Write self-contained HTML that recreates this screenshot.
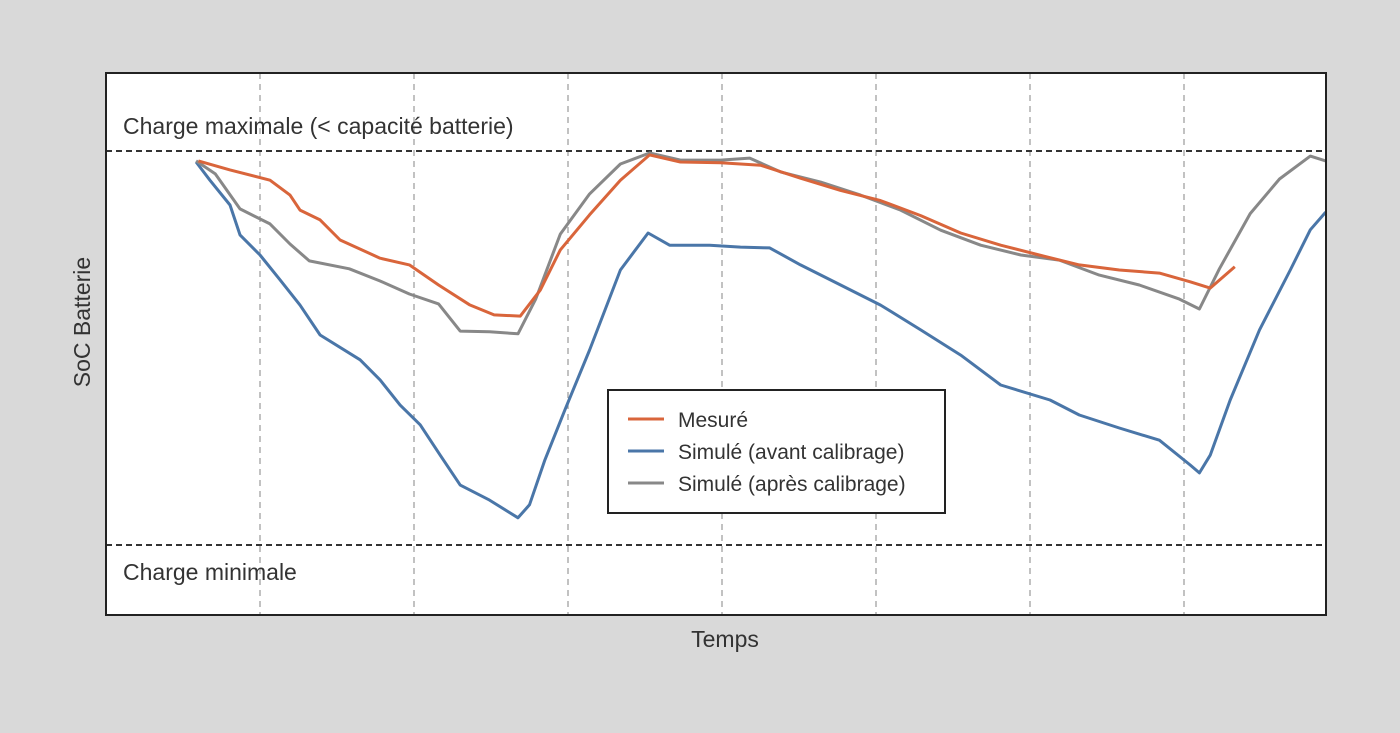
<!DOCTYPE html>
<html><head><meta charset="utf-8"><style>
html,body{margin:0;padding:0;background:#d9d9d9;}
svg text{font-family:"Liberation Sans",sans-serif;fill:#333;}
</style></head><body>
<svg width="1400" height="728" xmlns="http://www.w3.org/2000/svg">
<rect x="0" y="0" width="1400" height="728" fill="#d9d9d9"/>
<rect x="106" y="73" width="1220" height="542" fill="#fff"/>
<g id="grid"></g>
<g id="series"></g>
<rect x="106" y="73" width="1220" height="542" fill="none" stroke="#222" stroke-width="2"/>
<text x="123" y="134" font-size="23">Charge maximale (&lt; capacité batterie)</text>
<text x="123" y="580" font-size="23">Charge minimale</text>
<text x="725" y="647" font-size="23" text-anchor="middle">Temps</text>
<text x="0" y="0" font-size="23" text-anchor="middle" transform="translate(90,322) rotate(-90)">SoC Batterie</text>
<g>
<rect x="608" y="390" width="337" height="123" fill="#fff" stroke="#222" stroke-width="2"/>
<line x1="628" y1="419" x2="664" y2="419" stroke="#d9653b" stroke-width="3"/>
<text x="678" y="427" font-size="21">Mesuré</text>
<line x1="628" y1="451" x2="664" y2="451" stroke="#4a76a8" stroke-width="3"/>
<text x="678" y="459" font-size="21">Simulé (avant calibrage)</text>
<line x1="628" y1="483" x2="664" y2="483" stroke="#888" stroke-width="3"/>
<text x="678" y="491" font-size="21">Simulé (après calibrage)</text>
</g>
</svg>
<script>
// time in grid units (1 unit = one grid interval), SoC in % (0=min charge, 100=max charge)
const gridTimes=[1,2,3,4,5,6,7];
const socLimits=[100,0];
const mesureT=[0.6,0.805,1.065,1.195,1.26,1.39,1.52,1.78,1.97,2.16,2.36,2.52,2.69,2.82,2.95,3.14,3.34,3.53,3.73,3.99,4.25,4.51,4.77,5.03,5.29,5.55,5.81,6.06,6.32,6.58,6.84,7.04,7.17,7.33];
const mesureV=[97.5,95.2,92.6,88.8,85,82.5,77.4,72.8,71.1,66,61,58.4,58.1,64.7,74.9,83.8,92.6,99,97.2,97,96.4,93.1,90,87.4,83.6,79.2,76.1,73.6,71.1,69.8,69,66.8,65.2,70.6];
const avantT=[0.585,0.675,0.805,0.87,1,1.13,1.26,1.39,1.65,1.78,1.91,2.04,2.17,2.3,2.49,2.675,2.75,2.85,2.98,3.14,3.34,3.52,3.66,3.92,4.12,4.31,4.51,4.77,5.03,5.29,5.55,5.81,6.13,6.32,6.58,6.84,7.04,7.1,7.17,7.3,7.49,7.69,7.82,7.92];
const avantV=[97.2,92.6,86.3,78.7,73.6,67.3,60.9,53.3,47,41.9,35.5,30.5,22.8,15.2,11.4,6.9,10.2,21.6,34.3,49.5,69.8,79.2,76.1,76.1,75.6,75.4,71.1,66,60.9,54.6,48.2,40.6,36.8,33,29.7,26.6,20.3,18.3,22.8,36.8,54.6,69.8,80,84.5];
const apresT=[0.585,0.71,0.87,1.065,1.195,1.32,1.58,1.78,1.97,2.16,2.3,2.49,2.675,2.79,2.95,3.14,3.34,3.53,3.73,3.99,4.18,4.38,4.64,4.9,5.16,5.42,5.68,5.94,6.19,6.45,6.71,6.97,7.1,7.23,7.43,7.62,7.82,7.92];
const apresV=[97.5,94.2,85.3,81.5,76.4,72.1,70.1,67,63.7,61.2,54.3,54.1,53.6,62.4,78.9,89.1,96.7,99.5,97.7,97.7,98.2,94.7,92.1,88.8,85,79.9,76.1,73.6,72.3,68.5,66,62.4,59.9,70.1,84.1,92.9,98.7,97.5];

const X0=106,XU=154,Y0=545,YU=3.94;
const sx=t=>X0+t*XU, sy=v=>Y0-v*YU;
const NS="http://www.w3.org/2000/svg";
const grid=document.getElementById('grid');
gridTimes.forEach(t=>{
  const l=document.createElementNS(NS,'line');
  l.setAttribute('x1',sx(t));l.setAttribute('x2',sx(t));l.setAttribute('y1',73);l.setAttribute('y2',615);
  l.setAttribute('stroke','#999');l.setAttribute('stroke-width','1.2');l.setAttribute('stroke-dasharray','6,5');
  
  
  grid.appendChild(l);
});
socLimits.forEach(v=>{
  const l=document.createElementNS(NS,'line');
  l.setAttribute('x1',106);l.setAttribute('x2',1326);l.setAttribute('y1',sy(v));l.setAttribute('y2',sy(v));
  l.setAttribute('stroke','#333');l.setAttribute('stroke-width','2');l.setAttribute('stroke-dasharray','6,4');
  
  
  grid.appendChild(l);
});
const ser=document.getElementById('series');
function draw(T,V,color,name){
  const p=document.createElementNS(NS,'polyline');
  p.setAttribute('points',T.map((t,i)=>sx(t).toFixed(1)+','+sy(V[i]).toFixed(1)).join(' '));
  p.setAttribute('fill','none');p.setAttribute('stroke',color);p.setAttribute('stroke-width','3');
  p.setAttribute('stroke-linejoin','round');
  
  
  ser.appendChild(p);
}
draw(avantT,avantV,'#4a76a8','series-simule-avant');
draw(apresT,apresV,'#888888','series-simule-apres');
draw(mesureT,mesureV,'#d9653b','series-mesure');
</script>
</body></html>
